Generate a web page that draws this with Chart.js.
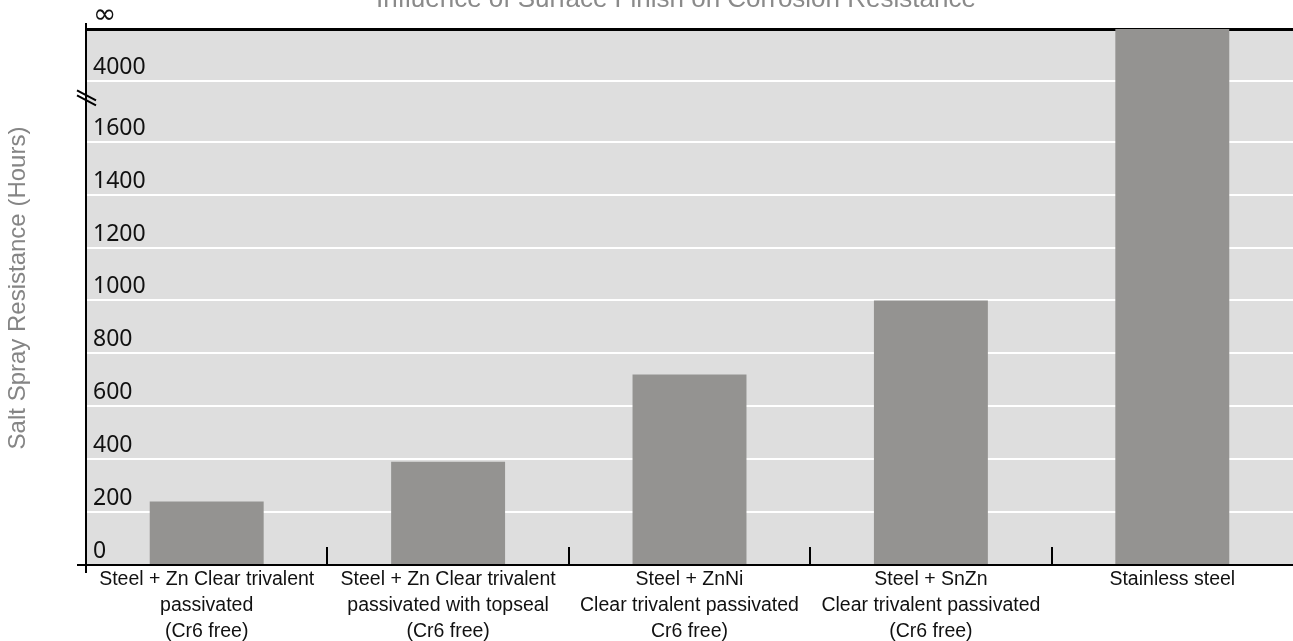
<!DOCTYPE html>
<html>
<head>
<meta charset="utf-8">
<script src="https://cdn.jsdelivr.net/npm/chart.js@4/dist/chart.umd.min.js"></script>
<style>
  html, body { margin: 0; padding: 0; background: #ffffff; }
  #wrap { position: relative; width: 1293px; height: 641px; }
</style>
</head>
<body>
<div id="wrap"><canvas id="chart" width="1293" height="641"></canvas></div>
<script>
// Finishes compared, one bar each
const categories = [
  ['Steel + Zn Clear trivalent', 'passivated', '(Cr6 free)'],
  ['Steel + Zn Clear trivalent', 'passivated with topseal', '(Cr6 free)'],
  ['Steel + ZnNi', 'Clear trivalent passivated', 'Cr6 free)'],
  ['Steel + SnZn', 'Clear trivalent passivated', '(Cr6 free)'],
  ['Stainless steel']
];

// Salt spray resistance in hours (stainless steel does not fail)
const hours = [240, 390, 720, 1000, Infinity];

// Y axis ticks: linear to 1600, a break, then 4000 and infinity
const tickHours = [0, 200, 400, 600, 800, 1000, 1200, 1400, 1600, 4000, Infinity];
const tickLabels = ['0', '200', '400', '600', '800', '1000', '1200', '1400', '1600', '4000', '\u221E'];

const chartTitle = 'Influence of Surface Finish on Corrosion Resistance';
const yTitle = 'Salt Spray Resistance (Hours)';

// Broken axis: hours up to 1600 map 1:1, the 1600..4000 span is compressed,
// and everything beyond 4000 runs up to the top of the axis.
const LINEAR_LIMIT = 1600;
const BREAK_AXIS_AT_4000 = 1830;
const AXIS_TOP = 2026;
function toAxis(h) {
  if (h <= LINEAR_LIMIT) return h;
  if (h === Infinity) return AXIS_TOP;
  if (h <= 4000) return LINEAR_LIMIT + (h - LINEAR_LIMIT) * (BREAK_AXIS_AT_4000 - LINEAR_LIMIT) / (4000 - LINEAR_LIMIT);
  return BREAK_AXIS_AT_4000;
}

const decorations = {
  id: 'decorations',
  beforeDraw(chart) {
    const { ctx, chartArea: a } = chart;
    ctx.save();
    ctx.fillStyle = '#ffffff';
    ctx.fillRect(0, 0, chart.width, chart.height);
    ctx.fillStyle = '#dedede';
    ctx.fillRect(a.left, a.top, a.right - a.left, a.bottom - a.top);
    ctx.restore();
  },
  afterDraw(chart) {
    const { ctx, chartArea: a } = chart;
    const x = chart.scales.x, y = chart.scales.y;
    ctx.save();
    ctx.strokeStyle = '#000000';
    ctx.lineCap = 'butt';

    // x axis line, running slightly past the y axis
    ctx.lineWidth = 2;
    ctx.beginPath();
    ctx.moveTo(a.left - 9, a.bottom);
    ctx.lineTo(a.right, a.bottom);
    ctx.stroke();

    // y axis line, overshooting at both ends
    ctx.beginPath();
    ctx.moveTo(a.left, a.top - 6);
    ctx.lineTo(a.left, a.bottom + 8);
    ctx.stroke();

    // tick marks between categories, pointing up into the plot
    for (let i = 1; i < categories.length; i++) {
      const bx = Math.round((x.getPixelForValue(i - 1) + x.getPixelForValue(i)) / 2);
      ctx.beginPath();
      ctx.moveTo(bx, a.bottom);
      ctx.lineTo(bx, a.bottom - 18);
      ctx.stroke();
    }

    // axis break symbol between 1600 and 4000
    const p1 = y.getPixelForValue(toAxis(1600));
    const p2 = y.getPixelForValue(toAxis(4000));
    const by = p1 + (p2 - p1) * 0.72;
    ctx.lineWidth = 2;
    for (const off of [-2.5, 2.5]) {
      ctx.beginPath();
      ctx.moveTo(a.left - 9, by + off - 5);
      ctx.lineTo(a.left + 10, by + off + 5);
      ctx.stroke();
    }

    // chart title
    ctx.fillStyle = '#8a8a8a';
    ctx.font = '26px "Liberation Sans", Arial, sans-serif';
    ctx.textAlign = 'center';
    ctx.textBaseline = 'alphabetic';
    ctx.fillText(chartTitle, 676, 7);

    // y axis title
    ctx.translate(18.7, 288);
    ctx.rotate(-Math.PI / 2);
    ctx.fillStyle = '#858585';
    ctx.font = '24px "Liberation Sans", Arial, sans-serif';
    ctx.textBaseline = 'middle';
    ctx.fillText(yTitle, 0, 0);
    ctx.restore();
  }
};

new Chart(document.getElementById('chart'), {
  type: 'bar',
  data: {
    labels: categories,
    datasets: [{
      data: hours.map(toAxis),
      backgroundColor: '#949391',
      borderWidth: 0,
      barPercentage: 0.472,
      categoryPercentage: 1.0
    }]
  },
  options: {
    responsive: false,
    animation: false,
    events: [],
    layout: { padding: { top: 29, left: 0, right: 0, bottom: 0 } },
    plugins: {
      legend: { display: false },
      title: { display: false },
      tooltip: { enabled: false }
    },
    scales: {
      x: {
        type: 'category',
        offset: true,
        grid: { display: false },
        border: { display: false },
        ticks: {
          color: '#111111',
          font: { family: '"Liberation Sans", Arial, sans-serif', size: 19.5, lineHeight: 1.32 },
          padding: -6,
          maxRotation: 0,
          minRotation: 0,
          autoSkip: false
        },
        afterFit(scale) { scale.height = 76; }
      },
      y: {
        type: 'linear',
        min: 0,
        max: AXIS_TOP,
        afterBuildTicks(scale) {
          scale.ticks = tickHours.map(h => ({ value: toAxis(h) }));
        },
        afterFit(scale) { scale.width = 86; },
        border: { display: false },
        grid: {
          drawTicks: false,
          color(ctx) {
            if (ctx.index === 0) return 'rgba(0,0,0,0)';
            if (ctx.index === tickHours.length - 1) return '#000000';
            return '#ffffff';
          },
          lineWidth(ctx) {
            return ctx.index === tickHours.length - 1 ? 3 : 2;
          }
        },
        ticks: {
          mirror: true,
          padding: 7,
          labelOffset: -13.5,
          color: '#111111',
          font(ctx) {
            if (ctx.index === tickHours.length - 1) {
              return { family: '"DejaVu Sans", sans-serif', size: 28 };
            }
            return { family: '"Noto Sans", sans-serif', size: 23 };
          },
          callback(value, index) { return tickLabels[index]; }
        }
      }
    }
  },
  plugins: [decorations]
});
</script>
</body>
</html>
